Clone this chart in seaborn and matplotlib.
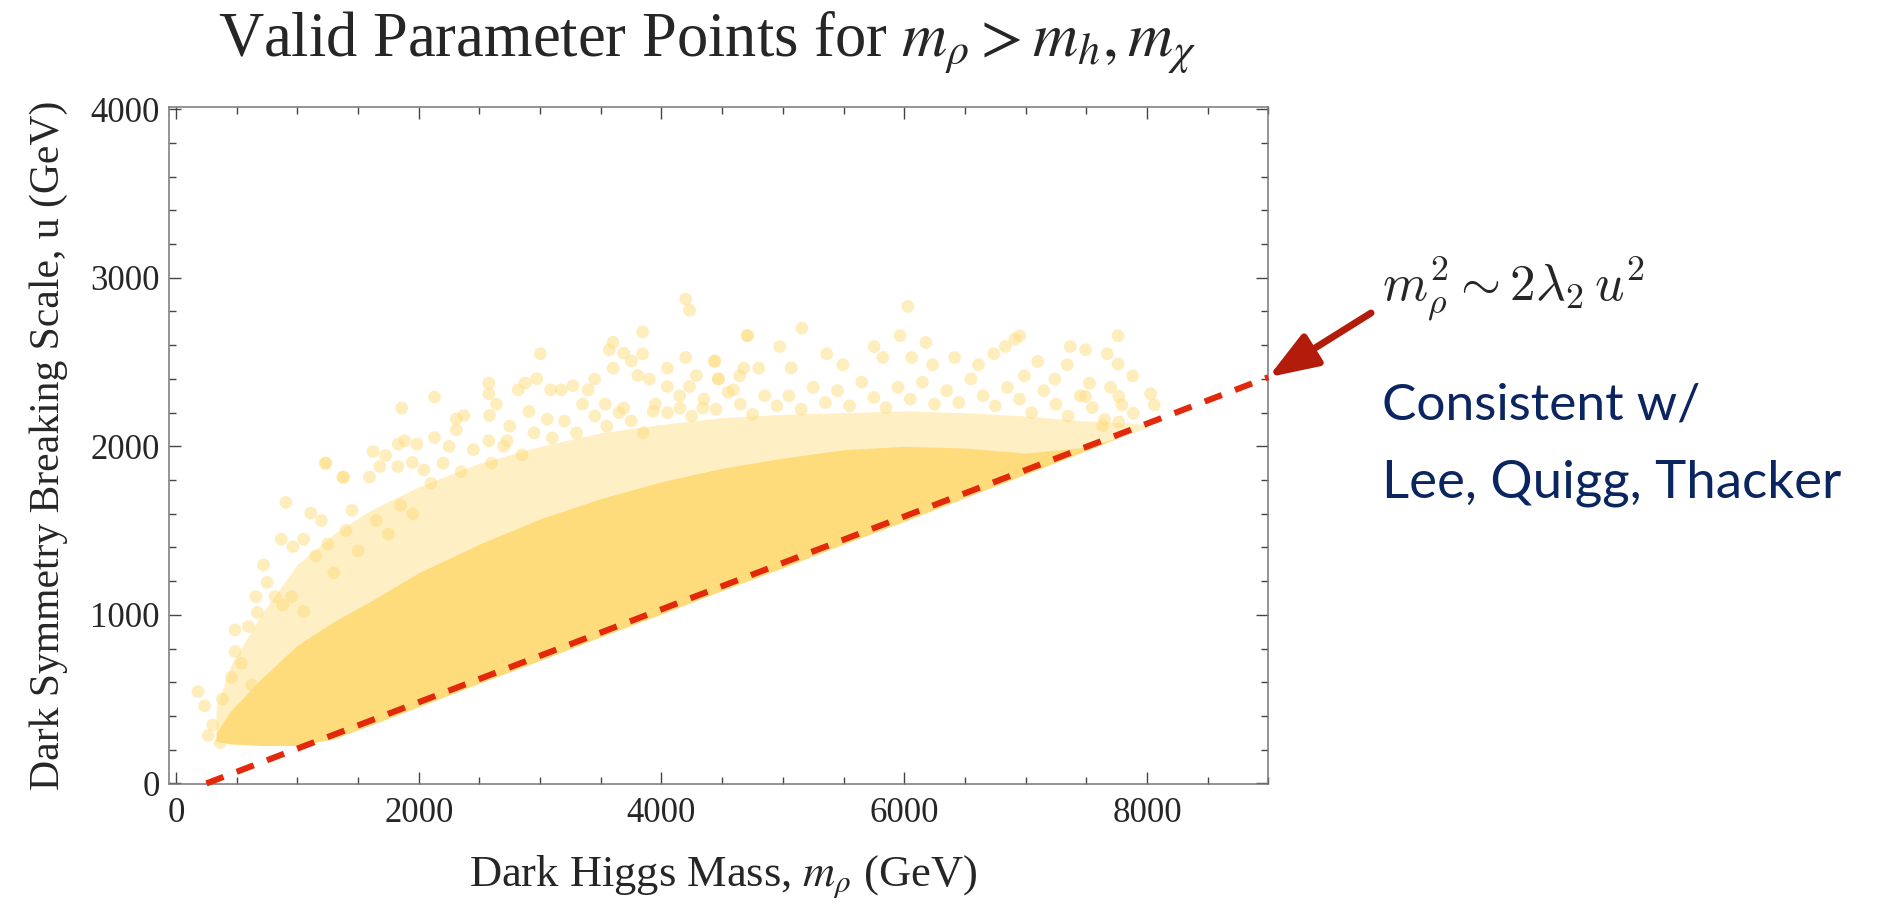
import matplotlib
matplotlib.use('Agg')
import matplotlib.pyplot as plt
from matplotlib.ticker import MultipleLocator
import seaborn as sns

# envelope of the dense point cloud
env_x = [330, 450, 700, 1000, 1300, 1600, 2000, 2500, 3000, 3500, 4000,
         4500, 5000, 5500, 6000, 6500, 7000, 7500, 7800, 8000]
floor_y = [250, 235, 225, 225, 265, 345, 455, 595, 730, 870, 1005,
           1145, 1280, 1420, 1555, 1695, 1835, 1975, 2060, 2110]
core_top = [300, 430, 620, 820, 960, 1080, 1250, 1420, 1570, 1690, 1790,
            1870, 1930, 1980, 2000, 1990, 1960, 1995, 2060, 2110]
halo_top = [450, 700, 1000, 1300, 1480, 1620, 1760, 1900, 2000, 2080, 2130,
            2170, 2190, 2200, 2210, 2200, 2180, 2150, 2140, 2130]

# scattered points outside / on the edge of the dense region
pts_x = [4199, 4231, 3844, 4709, 3002, 3601, 3570, 3689, 3844, 4199, 3752, 3601,
         4048, 2971, 2577, 4288, 4467, 4436, 2877, 2820, 2577, 3087, 3270, 3449,
         3806, 3900, 4048, 4231, 2130, 1859, 2640, 2908, 2583, 2372, 2310, 2310,
         2130, 1884, 1985, 1831, 1623, 1229, 1380, 1594, 1727, 1679, 1827, 1947,
         2042, 2577, 2728, 3059, 3175, 3396, 3537, 3689, 3932, 4152, 4341, 4593,
         4678,
         6030, 5157, 4706, 5966, 6952, 7762, 4974, 5752, 6178, 6833, 6911, 7368,
         7494, 7673, 7762, 7882, 8030, 8061, 7888, 7768, 7768, 7636, 7100, 7343,
         6738, 6416, 6061, 5361, 4439, 7526, 7494, 7794, 7242, 6990, 6612, 6234,
         5824, 5494, 5068, 4801, 4644, 4470,
         1236, 1374, 905, 1110, 1198, 867, 963, 1052, 721, 750, 658, 669,
         596, 486, 486, 456, 181, 235, 383, 302, 265, 365, 538, 622,
         816, 879, 952, 1052,
         1150, 1250, 1400, 1500, 1650, 1750, 1850, 1950, 1450, 1300,
         2100, 2200, 2350, 2450, 2600, 2700, 2850, 2950, 2250, 2750,
         3100, 3200, 3300, 3450, 3550, 3650, 3750, 3850, 3950, 3350,
         4050, 4150, 4250, 4350, 4450, 4550, 4650, 4750, 4850, 4950,
         5050, 5150, 5250, 5350, 5450, 5550, 5650, 5750, 5850, 5950,
         6050, 6150, 6250, 6350, 6450, 6550, 6650, 6750, 6850, 6950,
         7050, 7150, 7250, 7350, 7450, 7550, 7650, 7700]
pts_y = [2873, 2808, 2678, 2658, 2549, 2618, 2573, 2553, 2549, 2527, 2507, 2464,
         2464, 2401, 2375, 2420, 2401, 2503, 2375, 2335, 2312, 2335, 2359, 2399,
         2420, 2399, 2355, 2355, 2292, 2227, 2250, 2207, 2183, 2183, 2163, 2098,
         2052, 2033, 2013, 2013, 1969, 1900, 1817, 1817, 1945, 1880, 1880, 1904,
         1860, 2033, 2033, 2161, 2335, 2335, 2250, 2227, 2207, 2227, 2227, 2335,
         2464,
         2830, 2701, 2656, 2656, 2656, 2656, 2592, 2592, 2616, 2592, 2636, 2592,
         2573, 2549, 2488, 2418, 2312, 2246, 2197, 2296, 2144, 2122, 2503, 2484,
         2549, 2527, 2527, 2549, 2507, 2375, 2296, 2246, 2399, 2418, 2484, 2484,
         2527, 2484, 2464, 2464, 2418, 2399,
         1900, 1817, 1667, 1604, 1560, 1449, 1405, 1449, 1297, 1192, 1109, 1014,
         931, 911, 782, 630, 545, 460, 500, 347, 284, 242, 713, 585,
         1109, 1059, 1109, 1020,
         1350, 1420, 1500, 1380, 1560, 1480, 1650, 1600, 1620, 1250,
         1780, 1900, 1850, 1980, 1900, 2000, 1950, 2080, 2000, 2120,
         2050, 2150, 2080, 2180, 2120, 2200, 2150, 2080, 2250, 2250,
         2200, 2300, 2180, 2280, 2220, 2320, 2250, 2190, 2300, 2240,
         2300, 2220, 2350, 2260, 2330, 2240, 2380, 2290, 2230, 2350,
         2280, 2380, 2250, 2330, 2260, 2400, 2300, 2240, 2350, 2280,
         2200, 2330, 2250, 2180, 2300, 2230, 2160, 2350]

# m_rho^2 ~ 2 lambda_2 u^2 guide line
line_x = [250, 9000]
line_y = [0, 2410]

sns.set_style('ticks')
plt.rcParams['font.family'] = ['Liberation Serif', 'DejaVu Serif']
plt.rcParams['mathtext.fontset'] = 'stix'

fig = plt.figure(figsize=(18.84, 9.05), dpi=100)
ax = fig.add_axes([0.0899, 0.1334, 0.5833, 0.7487])

yellow = '#FEDC7C'
ax.fill_between(env_x, floor_y, halo_top, color=yellow, alpha=0.45, lw=0)
ax.fill_between(env_x, floor_y, core_top, color=yellow, alpha=1.0, lw=0)
sns.scatterplot(x=pts_x, y=pts_y, s=85, color=yellow, alpha=0.5,
                edgecolor='none', ax=ax, zorder=3)

ax.plot(line_x, line_y, color='#E3290C', lw=4.4, solid_capstyle='butt',
        dash_capstyle='butt', linestyle=(0, (3.0, 2.3)), zorder=4, clip_on=False)

ax.set_xlim(-55, 9000)
ax.set_ylim(-5, 4015)
ax.set_xticks([0, 2000, 4000, 6000, 8000])
ax.set_yticks([0, 1000, 2000, 3000, 4000])
ax.xaxis.set_minor_locator(MultipleLocator(500))
ax.yaxis.set_minor_locator(MultipleLocator(200))
ax.tick_params(which='both', direction='in', top=True, right=True,
               labelsize=25, width=1.0, color='#444444')
ax.tick_params(which='major', length=8.6)
ax.tick_params(which='minor', length=5.2)
ax.tick_params(axis='x', pad=9)
ax.tick_params(axis='y', pad=7)
for sp in ax.spines.values():
    sp.set_color('#777777')
    sp.set_linewidth(1.1)

ax.set_xlabel(r'Dark Higgs Mass, $m_\rho$ (GeV)', fontsize=32, va='top')
ax.xaxis.set_label_coords(0.504, -0.102)
ax.set_ylabel('Dark Symmetry Breaking Scale, u (GeV)', fontsize=30, va='center')
ax.yaxis.set_label_coords(-0.110, 0.5)

fig.text(218 / 1884, 1 - 57 / 905, r'Valid Parameter Points for $m_\rho > m_h, m_\chi$',
         fontsize=45, ha='left', va='baseline')

# annotation on the right
ax.annotate('', xy=(9000, 2410), xycoords='data',
            xytext=(1371 / 1884, 1 - 313 / 905), textcoords='figure fraction',
            arrowprops=dict(arrowstyle='-|>,head_length=30,head_width=11',
                            mutation_scale=1, lw=5, color='#B31B0B',
                            shrinkA=0, shrinkB=0),
            annotation_clip=False)
fig.text(1382 / 1884, 1 - 300 / 905, r'$m_\rho^2 \sim 2\lambda_2\,u^2$',
         fontsize=37, ha='left', va='baseline', math_fontfamily='cm')
fig.text(1382 / 1884, 1 - 420 / 905, 'Consistent w/', fontsize=37,
         family='Lato', color='#0B2560', ha='left', va='baseline')
fig.text(1382 / 1884, 1 - 497 / 905, 'Lee, Quigg, Thacker', fontsize=38,
         family='Lato', color='#0B2560', ha='left', va='baseline')

fig.savefig('out.png', dpi=100)
